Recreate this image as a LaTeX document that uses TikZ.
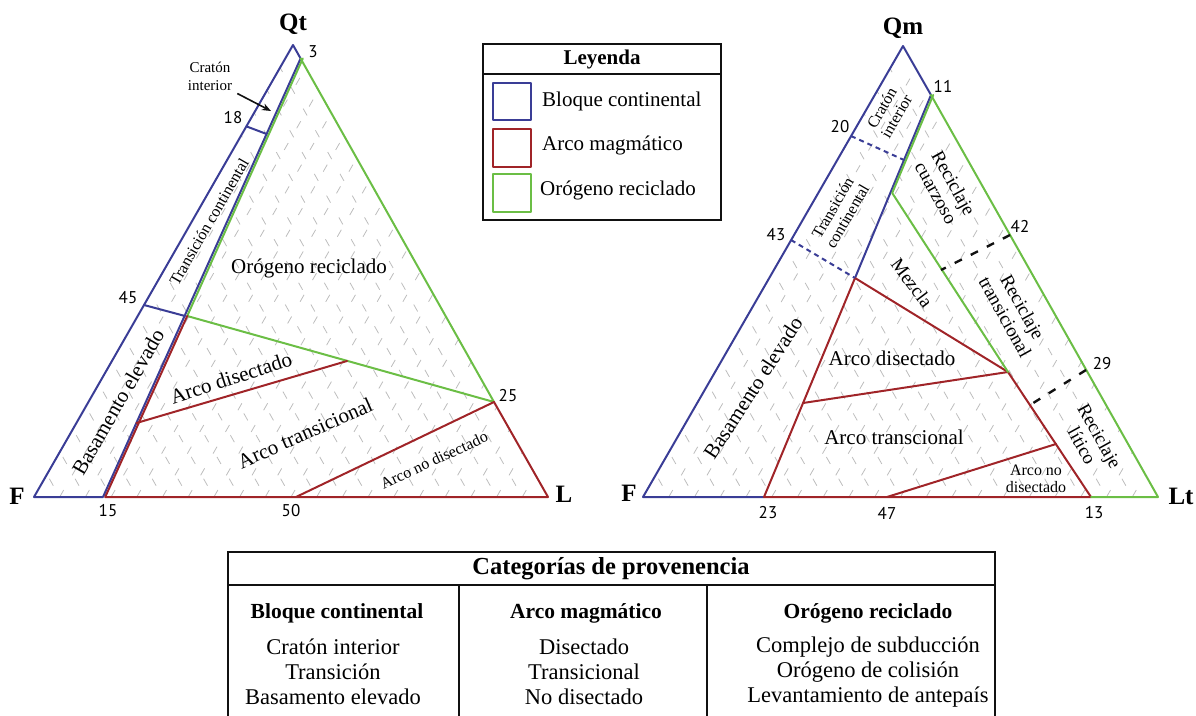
\documentclass[tikz,border=0pt]{standalone}
\usepackage{fontspec}
\setmainfont{Liberation Serif}
\newfontfamily\numfont{PT Sans}
\usetikzlibrary{arrows.meta,calc}
\definecolor{prBlue}{HTML}{3A3D96}
\definecolor{prRed}{HTML}{A02428}
\definecolor{prGreen}{HTML}{6BBE45}
\definecolor{prInk}{HTML}{111111}
\definecolor{prHatch}{HTML}{BDBDBD}
\tikzset{
  bnd/.style      ={line width=2pt,line join=round,line cap=round},
  bBlue/.style    ={bnd,draw=prBlue},
  bRed/.style     ={bnd,draw=prRed},
  bGreen/.style   ={bnd,draw=prGreen},
  bBlueDash/.style={draw=prBlue,line width=2pt,dash pattern=on 5pt off 4pt},
  bInkDash/.style ={draw=prInk,line width=2.4pt,dash pattern=on 8pt off 10pt},
  hatch/.style    ={draw=prHatch,line width=0.8pt,dash pattern=on 8pt off 17pt},
  hatchB/.style   ={hatch,dash phase=12pt},
  callout/.style  ={-{Stealth[length=9pt,width=7pt]},prInk,line width=1.6pt},
  frame/.style    ={draw=prInk,line width=1.8pt},
  %% labels
  vlab/.style     ={font=\bfseries\fontsize{25}{28}\selectfont,inner sep=0pt},
  num/.style      ={font=\numfont\fontsize{17}{19}\selectfont,inner sep=0pt},
  reg/.style      ={font=\fontsize{21}{23}\selectfont,inner sep=0pt,align=center},
  mreg/.style     ={font=\fontsize{19}{20}\selectfont,inner sep=0pt,align=center},
  sreg/.style     ={font=\fontsize{16}{17}\selectfont,inner sep=0pt,align=center},
  lgtxt/.style    ={font=\fontsize{21}{24}\selectfont,anchor=west,inner sep=0pt},
  lghead/.style   ={font=\bfseries\fontsize{21}{24}\selectfont,inner sep=0pt},
  tbhead/.style   ={font=\bfseries\fontsize{24.5}{26}\selectfont,inner sep=0pt},
  tbcol/.style    ={font=\bfseries\fontsize{21.5}{25}\selectfont,inner sep=0pt},
  tbitem/.style   ={font=\fontsize{22.5}{25}\selectfont,inner sep=0pt,align=center},
}

\begin{document}
\begin{tikzpicture}[x=1pt,y=-1pt]
\useasboundingbox (0,0) rectangle (1196,715);

%% left diagram  Qt - F - L
\coordinate (lQ) at (293,45);
\coordinate (lF) at (34,497);
\coordinate (lL) at (548,497);
\coordinate (l3) at (300.6,58.5);
\coordinate (l15) at (103,497);
\coordinate (l18a) at (246.5,126.4);
\coordinate (l18b) at (266.6,134);
\coordinate (l45a) at (144,305);
\coordinate (l45b) at (185,316);
\coordinate (l25) at (494,402);
\coordinate (l50) at (296,497);
\coordinate (lArcA) at (136.5,423);
\coordinate (lArcB) at (347,361);

\begin{scope}
  \clip (lF) -- (lL) -- (lQ) -- cycle;
  \foreach \k in {1,...,19}{
    \draw[hatch] ($(lF)!\k/20!(lL)$) -- ++(259,-452);
    \draw[hatchB] ($(lF)!\k/20!(lL)$) -- ++(-255,-452);
  }
\end{scope}

\draw[bBlue] (l15) -- (lF) -- (lQ) -- (l3) -- (l15);
\draw[bGreen] ([xshift=2.2pt]l3) -- ([xshift=2.2pt]l45b) -- (l25) -- (l3);
\draw[bRed] ([xshift=2.2pt]l45b) -- ([xshift=2.2pt]l15) -- (lL) -- (l25);
\draw[bRed] (lArcA) -- (lArcB);
\draw[bRed] (l50) -- (l25);
\draw[bBlue] (l18a) -- (l18b);
\draw[bBlue] (l45a) -- (l45b);

\node[vlab] (labQt) at (293,24) {Qt};
\node[vlab] (labF1) at (17,496) {F};
\node[vlab] (labL) at (564,494) {L};
\node[num] (n3) at (313,52) {3};
\node[num] (n18) at (233,118) {18};
\node[num] (n45) at (128,298) {45};
\node[num] (n15) at (108,511) {15};
\node[num] (n50) at (291,511) {50};
\node[num] (n25) at (508,396) {25};

\node[font=\fontsize{15}{18}\selectfont,inner sep=0pt,align=center] (cratonL) at (210,76) {Cratón\\interior};
\coordinate (cratonTip) at (271,111);
\draw[callout] ($(cratonL.south east)+(5,3)$) -- (cratonTip);
\node[sreg,rotate=60] (transL) at (209,222) {Transición continental};
\node[reg] (orogL) at (309,268) {Orógeno reciclado};
\node[reg,rotate=60] (basaL) at (118,402) {Basamento elevado};
\node[reg,rotate=18] (disL) at (231,378) {Arco disectado};
\node[reg,rotate=24] (tranL) at (305,433) {Arco transicional};
\node[sreg,rotate=25] (nodisL) at (434,460) {Arco no disectado};

%% right diagram  Qm - F - Lt
\coordinate (rQ) at (903,46);
\coordinate (rF) at (643,497);
\coordinate (rL) at (1158,497);
\coordinate (r11) at (931,95);
\coordinate (r23) at (764,497);
\coordinate (r47) at (887,497);
\coordinate (r13) at (1091,497);
\coordinate (r20a) at (851,136);
\coordinate (r20b) at (904,160);
\coordinate (rG) at (890,193);
\coordinate (r43a) at (791,240);
\coordinate (rM) at (855,278);
\coordinate (rV) at (1008,372);
\coordinate (rD) at (803,403);
\coordinate (rN) at (1056,444);
\coordinate (r42a) at (1010,235);
\coordinate (r42b) at (941,270);
\coordinate (r29a) at (1086,370);
\coordinate (r29b) at (1030,405);

\begin{scope}
  \clip (rF) -- (rL) -- (rQ) -- cycle;
  \foreach \k in {1,...,19}{
    \draw[hatch] ($(rF)!\k/20!(rL)$) -- ++(260,-451);
    \draw[hatchB] ($(rF)!\k/20!(rL)$) -- ++(-255,-451);
  }
\end{scope}

\draw[bBlue] (r23) -- (rF) -- (rQ) -- (r11) -- (rM);
\draw[bRed] (rM) -- (r23) -- (r13) -- (rV) -- cycle;
\draw[bRed] (rD) -- (rV);
\draw[bRed] (r47) -- (rN);
\draw[bGreen] ([xshift=2.2pt]r11) -- ([xshift=2.2pt]rG) -- (rV);
\draw[bGreen] (r11) -- (rL) -- (r13);
\draw[bBlueDash] (r20a) -- (r20b);
\draw[bBlueDash] (r43a) -- (rM);
\draw[bInkDash] (r42a) -- (r42b);
\draw[bInkDash] (r29a) -- (r29b);

\node[vlab] (labQm) at (903,28) {Qm};
\node[vlab] (labF2) at (629,493) {F};
\node[vlab] (labLt) at (1181,496) {Lt};
\node[num] (n11) at (943,86) {11};
\node[num] (n20) at (840,127) {20};
\node[num] (n43) at (776,235) {43};
\node[num] (n42) at (1020,226) {42};
\node[num] (n29) at (1102,364) {29};
\node[num] (n23) at (768,513) {23};
\node[num] (n47) at (887,513) {47};
\node[num] (n13) at (1094,513) {13};

\node[sreg,rotate=60] (cratonR) at (889,112) {Cratón\\interior};
\node[sreg,rotate=60] (transR) at (840,212) {Transición\\continental};
\node[mreg,rotate=-61] (reccR) at (945,188) {Reciclaje\\cuarzoso};
\node[mreg,rotate=-53] (mezR) at (912,283) {Mezcla};
\node[mreg,rotate=-61] (rectR) at (1014,312) {Reciclaje\\transicional};
\node[reg] (disR) at (892,358) {Arco disectado};
\node[reg] (tranR) at (894,437) {Arco transcional};
\node[sreg] (nodisR) at (1036,479) {Arco no\\disectado};
\node[mreg,rotate=-61] (litR) at (1091,441) {Reciclaje\\lítico};
\node[reg,rotate=57] (basaR) at (753,388) {Basamento elevado};

%% legend
\draw[frame] (483,44) rectangle (721,220);
\draw[frame] (483,74) -- (721,74);
\node[lghead] (lgTitle) at (602,59) {Leyenda};
\draw[bBlue] (493,83) rectangle (531,120);
\draw[bRed] (493,129) rectangle (531,167);
\draw[bGreen] (493,174) rectangle (531,212);
\node[lgtxt] (lgBlue) at (542,101) {Bloque continental};
\node[lgtxt] (lgRed) at (542,145) {Arco magmático};
\node[lgtxt] (lgGreen) at (540,190) {Orógeno reciclado};

%% provenance table
\draw[frame] (228,722) |- (995,552) -- (995,722);
\draw[frame] (228,585) -- (995,585);
\draw[frame] (459,585) -- (459,722);
\draw[frame] (707,585) -- (707,722);
\node[tbhead] (tbTitle) at (611,569) {Categorías de provenencia};
\node[tbcol] (tbC1) at (337,613) {Bloque continental};
\node[tbcol] (tbC2) at (586,613) {Arco magmático};
\node[tbcol] (tbC3) at (868,613) {Orógeno reciclado};
\node[tbitem] (tbI1) at (333,672) {Cratón interior\\Transición\\Basamento elevado};
\node[tbitem] (tbI2) at (584,672) {Disectado\\Transicional\\No disectado};
\node[tbitem] (tbI3) at (868,672) {Complejo de subducción\\Orógeno de colisión\\Levantamiento de antepaís};
\end{tikzpicture}
\end{document}
